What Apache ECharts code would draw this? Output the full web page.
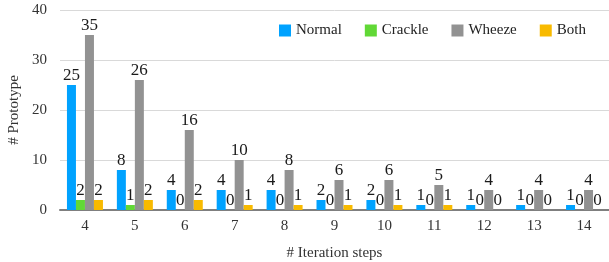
<!DOCTYPE html>
<html>
<head>
<meta charset="utf-8">
<script src="https://cdn.jsdelivr.net/npm/echarts@6/dist/echarts.min.js"></script>
<style>
  html, body { margin: 0; padding: 0; background: #fff; }
  #chart { width: 609px; height: 262px; }
</style>
</head>
<body>
<div id="chart"></div>
<script>
// iteration steps on the x axis
const steps = ['4', '5', '6', '7', '8', '9', '10', '11', '12', '13', '14'];
const normal  = [25, 8, 4, 4, 4, 2, 2, 1, 1, 1, 1];
const crackle = [2, 1, 0, 0, 0, 0, 0, 0, 0, 0, 0];
const wheeze  = [35, 26, 16, 10, 8, 6, 6, 5, 4, 4, 4];
const both    = [2, 2, 2, 1, 1, 1, 1, 1, 0, 0, 0];
const yTicks = [0, 10, 20, 30, 40];

const font = 'Liberation Serif';
const chart = echarts.init(document.getElementById('chart'));

let makeSeries = (name, data, color) => ({
    name: name,
    type: 'bar',
    data: data,
    barWidth: 9,
    barGap: '0%',
    itemStyle: { color: color },
    label: {
        show: true,
        position: 'top',
        distance: 1,
        fontFamily: font,
        fontSize: 17,
        color: '#1a1a1a'
    }
});

chart.setOption({
    animation: false,
    textStyle: { fontFamily: font },
    grid: { left: 60, right: 0, top: 10, bottom: 52, outerBoundsMode: 'none', containLabel: false },
    legend: {
        top: 18,
        left: 274,
        itemWidth: 12,
        itemHeight: 12,
        itemGap: 23,
        icon: 'rect',
        textStyle: { fontFamily: font, fontSize: 15, color: '#222' },
        data: ['Normal', 'Crackle', 'Wheeze', 'Both']
    },
    xAxis: {
        type: 'category',
        data: steps,
        name: '# Iteration steps',
        nameLocation: 'middle',
        nameGap: 36,
        nameTextStyle: { fontFamily: font, fontSize: 15, color: '#333' },
        axisLine: { lineStyle: { color: '#7f7f7f', width: 2 } },
        axisTick: { show: false },
        axisLabel: { fontFamily: font, fontSize: 15, color: '#333', margin: 9 }
    },
    yAxis: {
        type: 'value',
        min: yTicks[0],
        max: yTicks[yTicks.length - 1],
        interval: 10,
        name: '# Prototype',
        nameLocation: 'middle',
        nameGap: 38,
        nameTextStyle: { fontFamily: font, fontSize: 15, color: '#333' },
        axisLine: { show: false },
        axisTick: { show: false },
        axisLabel: { fontFamily: font, fontSize: 15, color: '#333', margin: 13 },
        splitLine: { lineStyle: { color: '#d9d9d9', width: 1 } }
    },
    series: [
        makeSeries('Normal', normal, '#00a2ff'),
        makeSeries('Crackle', crackle, '#61d836'),
        makeSeries('Wheeze', wheeze, '#929292'),
        makeSeries('Both', both, '#f8ba00')
    ]
});
</script>
</body>
</html>
